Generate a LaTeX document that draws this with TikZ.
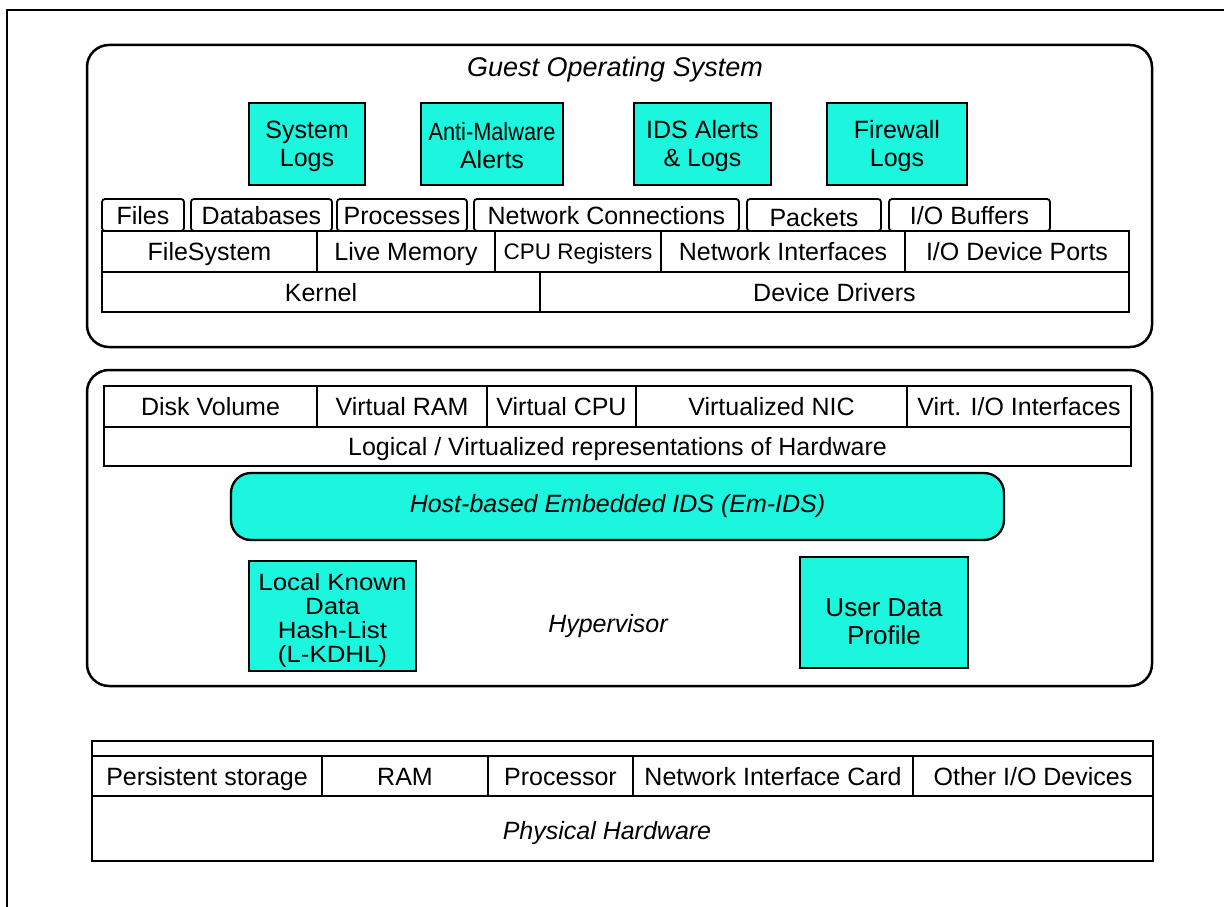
\documentclass[tikz,border=0pt]{standalone}
\usepackage{fontspec}
\usepackage{graphicx}
\setmainfont{Liberation Sans}
\newfontfamily\widesans[FakeStretch=1.1]{Liberation Sans}
\definecolor{idscyan}{RGB}{28,246,222}
\begin{document}
\begin{tikzpicture}[x=1pt,y=-1pt,
  txt/.style={font=\fontsize{25}{28}\selectfont},
  cell/.style={draw, line width=1.8pt, inner sep=0pt, txt, text height=18pt, text depth=0pt},
  tab/.style={cell, rounded corners=3pt},
  layer/.style={draw, line width=2.5pt, rounded corners=22pt, inner sep=0pt},
  cyanbox/.style={draw, fill=idscyan, line width=2.3pt, inner sep=0pt, align=center, txt},
  boxtext/.style={align=center, inner sep=0pt},
  caption/.style={font=\fontsize{25}{28}\selectfont\itshape, text height=18pt, text depth=0pt}]
\useasboundingbox (0,0) rectangle (1224,907);

% page frame
\coordinate (ftr) at (1224,10);
\coordinate (ftl) at (7,10);
\coordinate (fbl) at (7,907);
\draw[line width=1.5pt] (ftr) -- (ftl) -- (fbl);

% ---------------- Guest operating system ----------------
\node[layer, minimum width=1065, minimum height=302] (guest) at (619.5,196) {};
\node[caption, font=\fontsize{27}{30}\selectfont\itshape] (guestlbl) at (615,68) {Guest Operating System};

\node[cyanbox, minimum width=116, minimum height=82] (syslog) at (307,144) {};
\node[cyanbox, minimum width=142, minimum height=82] (antimal) at (492,144) {};
\node[cyanbox, minimum width=137, minimum height=82] (idslog) at (702.5,144) {};
\node[cyanbox, minimum width=140, minimum height=82] (fwlog) at (897,144) {};
\node[boxtext, txt] (syslogt) at ([yshift=-2pt]syslog.center) {System\\Logs};
\node[boxtext, txt] (antimalt) at ([yshift=-2pt]antimal.center) {\scalebox{0.87}[1]{Anti-Malware}\\Alerts};
\node[boxtext, txt] (idslogt) at ([yshift=-2pt]idslog.center) {IDS Alerts\\\& Logs};
\node[boxtext, txt] (fwlogt) at ([yshift=-2pt]fwlog.center) {Firewall\\Logs};

\node[tab, minimum width=82,  minimum height=32] (files) at (143,215) {Files};
\node[tab, minimum width=141, minimum height=32] (db)    at (261.5,215) {Databases};
\node[tab, minimum width=130, minimum height=32] (proc)  at (402,215) {Processes};
\node[tab, minimum width=265, minimum height=32] (netc)  at (606.5,215) {Network Connections};
\node[tab, minimum width=134, minimum height=32, text height=22pt] (pkt) at (814,215) {Packets};
\node[tab, minimum width=161, minimum height=32] (iobuf) at (969.5,215) {I/O Buffers};

\node[cell, minimum width=215, minimum height=41] (fs)   at (209.5,251.5) {FileSystem};
\node[cell, minimum width=178, minimum height=41] (mem)  at (406,251.5) {Live Memory};
\node[cell, minimum width=166, minimum height=41, font=\fontsize{22.5}{25}\selectfont, text height=16pt] (cpur) at (578,251.5) {CPU Registers};
\node[cell, minimum width=244, minimum height=41] (netif) at (783,251.5) {Network Interfaces};
\node[cell, minimum width=224, minimum height=41] (iodp) at (1017,251.5) {I/O Device Ports};

\node[cell, minimum width=438, minimum height=40] (kernel) at (321,292) {Kernel};
\node[cell, minimum width=589, minimum height=40] (drv)    at (834.5,292) {Device Drivers};

% ---------------- Hypervisor ----------------
\node[layer, minimum width=1065, minimum height=316] (hyp) at (619.5,528) {};

\node[cell, minimum width=213, minimum height=41] (disk) at (210.5,406.5) {Disk Volume};
\node[cell, minimum width=170, minimum height=41] (vram) at (402,406.5) {Virtual RAM};
\node[cell, minimum width=149, minimum height=41] (vcpu) at (561.5,406.5) {Virtual CPU};
\node[cell, minimum width=271, minimum height=41] (vnic) at (771.5,406.5) {Virtualized NIC};
\node[cell, minimum width=224, minimum height=41] (vio)  at (1019,406.5) {Virt. I/O Interfaces};
\node[cell, minimum width=1027, minimum height=39] (logical) at (617.5,446.5) {Logical / Virtualized representations of Hardware};

\node[cyanbox, rounded corners=20pt, minimum width=773, minimum height=67, font=\fontsize{25}{28}\selectfont\itshape] (emids) at (617.5,506.5) {Host-based Embedded IDS (Em-IDS)};

\node[cyanbox, minimum width=167, minimum height=110] (kdhl) at (332.5,616) {};
\node[boxtext, font=\widesans\fontsize{23.5}{24}\selectfont] (kdhlt) at ([yshift=-4pt]kdhl.center) {Local Known\\Data\\Hash-List\\(L-KDHL)};
\node[cyanbox, minimum width=168, minimum height=111] (udp) at (884,612.5) {};
\node[boxtext, font=\fontsize{26}{28}\selectfont] (udpt) at ([yshift=-9pt]udp.center) {User Data\\Profile};
\node[caption] (hyplbl) at (608,623) {Hypervisor};

% ---------------- Physical hardware ----------------
\node[draw, line width=2pt, inner sep=0pt, minimum width=1061, minimum height=120] (phys) at (622.5,801) {};
\node[cell, minimum width=230, minimum height=40] (pstore) at (207,776) {Persistent storage};
\node[cell, minimum width=166, minimum height=40] (ram)    at (405,776) {RAM};
\node[cell, minimum width=145, minimum height=40] (cpu)    at (560.5,776) {Processor};
\node[cell, minimum width=280, minimum height=40] (nic)    at (773,776) {Network Interface Card};
\node[cell, minimum width=240, minimum height=40] (oio)    at (1033,776) {Other I/O Devices};
\node[caption] (physlbl) at (607,830) {Physical Hardware};
\end{tikzpicture}
\end{document}
